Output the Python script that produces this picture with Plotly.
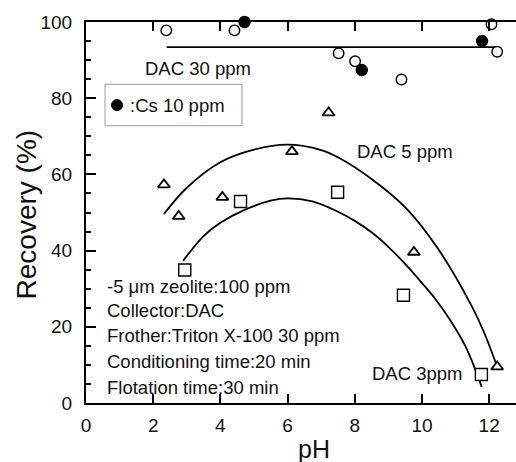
import plotly.graph_objects as go

# ---- data ----
dac30_x = [2.39, 4.42, 7.52, 8.01, 9.39, 12.07, 12.24]
dac30_y = [97.8, 97.8, 91.8, 89.7, 84.9, 99.4, 92.2]

cs10_x = [4.72, 8.21, 11.79]
cs10_y = [100.0, 87.4, 95.0]

dac5_x = [2.32, 2.76, 4.06, 6.13, 7.22, 9.76, 12.24]
dac5_y = [57.3, 49.0, 54.0, 66.0, 76.2, 39.6, 9.5]

dac3_x = [2.94, 4.60, 7.49, 9.45, 11.77]
dac3_y = [34.9, 52.9, 55.3, 28.3, 7.5]

# fitted lines as drawn in the reference
fit30_x = [2.4, 12.2]
fit30_y = [93.4, 93.4]

fit5_x = [2.32, 3.0, 4.0, 5.0, 6.0, 7.0, 7.54, 8.53, 9.52, 10.5, 11.49, 11.85, 12.26]
fit5_y = [49.6, 56.5, 63.2, 66.5, 67.8, 66.4, 64.3, 58.6, 51.2, 40.2, 25.3, 18.5, 9.0]

fit3_x = [2.89, 3.5, 4.0, 4.72, 5.5, 6.0, 6.74, 7.5, 8.0, 8.5, 9.0, 9.5, 10.0, 10.4, 10.8, 11.3, 11.6, 11.78]
fit3_y = [37.3, 43.8, 47.3, 50.7, 53.1, 53.7, 52.9, 50.2, 47.8, 44.8, 41.0, 36.5, 31.5, 27.3, 22.3, 14.8, 8.5, 4.2]

x_ticks = [0, 2, 4, 6, 8, 10, 12]
y_ticks = [0, 20, 40, 60, 80, 100]

conditions = [
    "-5 μm zeolite:100 ppm",
    "Collector:DAC",
    "Frother:Triton X-100 30 ppm",
    "Conditioning time:20 min",
    "Flotation time:30 min",
]
cond_y = [30.5, 24.4, 17.6, 11.0, 4.2]

FONT = "Arial, Liberation Sans, sans-serif"

fig = go.Figure()

line_style = dict(color="black", width=1.8)
for fx, fy, shape in [(fit30_x, fit30_y, "linear"), (fit5_x, fit5_y, "spline"), (fit3_x, fit3_y, "spline")]:
    fig.add_trace(go.Scatter(x=fx, y=fy, mode="lines", line=dict(shape=shape, smoothing=1.0, **line_style),
                             hoverinfo="skip", showlegend=False))

mk_line = dict(color="black", width=1.4)
fig.add_trace(go.Scatter(x=dac30_x, y=dac30_y, mode="markers", cliponaxis=False, showlegend=False,
                         marker=dict(symbol="circle", size=10.5, color="white", line=mk_line)))
fig.add_trace(go.Scatter(x=cs10_x, y=cs10_y, mode="markers", cliponaxis=False, showlegend=False,
                         marker=dict(symbol="circle", size=11, color="black", line=mk_line)))
fig.add_trace(go.Scatter(x=dac5_x, y=dac5_y, mode="markers", cliponaxis=False, showlegend=False,
                         marker=dict(symbol="triangle-up", size=10.5, color="white", line=dict(color="black", width=1.8))))
fig.add_trace(go.Scatter(x=dac3_x, y=dac3_y, mode="markers", cliponaxis=False, showlegend=False,
                         marker=dict(symbol="square", size=12, color="white", line=mk_line)))

ann = []
txt_font = dict(family=FONT, size=18.5, color="#111")
ann.append(dict(x=3.32, y=87.8, xref="x", yref="y", text="DAC 30 ppm", showarrow=False, font=txt_font))
ann.append(dict(x=9.5, y=66.0, xref="x", yref="y", text="DAC 5 ppm", showarrow=False, font=txt_font))
ann.append(dict(x=9.86, y=7.7, xref="x", yref="y", text="DAC 3ppm", showarrow=False, font=txt_font))
for t, yy in zip(conditions, cond_y):
    ann.append(dict(x=0.58, y=yy, xref="x", yref="y", text=t, showarrow=False, xanchor="left",
                    yanchor="middle", font=txt_font))
# legend-like box
ann.append(dict(x=0.0977, y=0.782, xref="paper", yref="paper", text=":Cs 10 ppm", showarrow=False,
                xanchor="left", yanchor="middle", font=txt_font))
# axis titles
ann.append(dict(x=0.53, y=-0.12, xref="paper", yref="paper", text="pH", showarrow=False,
                yanchor="middle", font=dict(family=FONT, size=25, color="#111")))
ann.append(dict(x=-0.1395, y=0.495, xref="paper", yref="paper", text="Recovery (%)", showarrow=False,
                textangle=-90, xanchor="center", yanchor="middle", font=dict(family=FONT, size=28, color="#111")))

shapes = [
    dict(type="rect", xref="paper", yref="paper", x0=0.0442, x1=0.3628, y0=0.7278, y1=0.8365,
         line=dict(color="#9a9a9a", width=1), fillcolor="rgba(0,0,0,0)"),
    dict(type="circle", xref="paper", yref="paper", xsizemode="pixel", ysizemode="pixel",
         xanchor=0.0721, yanchor=0.782, x0=-5.5, x1=5.5, y0=-5.5, y1=5.5,
         fillcolor="black", line=dict(color="black", width=1)),
]

fig.update_layout(
    width=516, height=462,
    margin=dict(l=86, r=0, t=22, b=59),
    paper_bgcolor="white", plot_bgcolor="white",
    annotations=ann, shapes=shapes,
    font=dict(family=FONT, color="#111"),
)
fig.update_xaxes(range=[0, 12.8], tickvals=x_ticks, ticktext=[str(v) for v in x_ticks],
                 ticks="inside", ticklen=9, tickwidth=1.8, tickcolor="black",
                 showline=True, linewidth=2, linecolor="black", mirror="ticks",
                 showgrid=False, zeroline=False, tickfont=dict(family=FONT, size=19, color="#111"),
                 ticklabelstandoff=4)
fig.update_yaxes(range=[0, 100], tickvals=y_ticks, ticktext=[str(v) for v in y_ticks],
                 ticks="inside", ticklen=10, tickwidth=1.8, tickcolor="black",
                 minor=dict(dtick=5, ticks="inside", ticklen=5, tickwidth=1.5, tickcolor="black"),
                 showline=True, linewidth=2, linecolor="black", mirror=False,
                 showgrid=False, zeroline=False, tickfont=dict(family=FONT, size=19, color="#111"),
                 ticklabelstandoff=8)

fig.write_html("out.html")
